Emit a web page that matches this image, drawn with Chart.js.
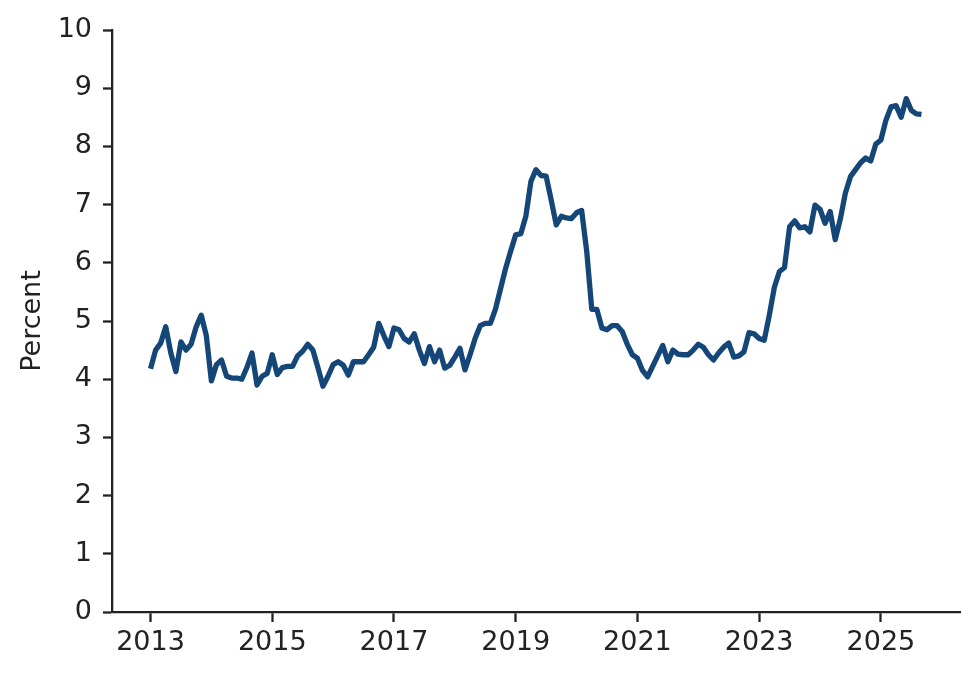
<!DOCTYPE html>
<html>
<head>
<meta charset="utf-8">
<script src="https://cdn.jsdelivr.net/npm/chart.js@4/dist/chart.umd.min.js"></script>
<style>
html,body{margin:0;padding:0;background:#fff;}
#wrap{width:979px;height:679px;}
</style>
</head>
<body>
<div id="wrap"><canvas id="c" width="979" height="679"></canvas></div>
<script>
const startYear = 2013;
const v2013 = [4.18, 4.5, 4.62, 4.9, 4.45, 4.13, 4.64, 4.5, 4.6, 4.9, 5.1, 4.75];
const v2014 = [3.97, 4.25, 4.33, 4.05, 4.02, 4.02, 4.0, 4.2, 4.45, 3.9, 4.05, 4.1];
const v2015 = [4.42, 4.08, 4.2, 4.22, 4.22, 4.4, 4.48, 4.6, 4.5, 4.2, 3.88, 4.05];
const v2016 = [4.25, 4.3, 4.24, 4.07, 4.3, 4.3, 4.3, 4.42, 4.55, 4.96, 4.75, 4.56];
const v2017 = [4.88, 4.85, 4.7, 4.64, 4.78, 4.5, 4.27, 4.56, 4.3, 4.5, 4.19, 4.24];
const v2018 = [4.38, 4.53, 4.16, 4.42, 4.7, 4.92, 4.96, 4.96, 5.2, 5.55, 5.9, 6.2];
const v2019 = [6.48, 6.5, 6.8, 7.4, 7.6, 7.5, 7.49, 7.08, 6.65, 6.8, 6.77, 6.76];
const v2020 = [6.86, 6.9, 6.2, 5.2, 5.2, 4.88, 4.85, 4.92, 4.92, 4.82, 4.6, 4.42];
const v2021 = [4.36, 4.15, 4.04, 4.22, 4.4, 4.58, 4.3, 4.5, 4.43, 4.42, 4.42, 4.5];
const v2022 = [4.6, 4.55, 4.42, 4.33, 4.45, 4.55, 4.62, 4.38, 4.4, 4.47, 4.8, 4.78];
const v2023 = [4.7, 4.67, 5.1, 5.58, 5.85, 5.92, 6.62, 6.72, 6.6, 6.62, 6.53, 6.99];
const v2024 = [6.92, 6.68, 6.88, 6.4, 6.75, 7.2, 7.48, 7.6, 7.72, 7.8, 7.75, 8.04];
const v2025 = [8.11, 8.45, 8.68, 8.7, 8.5, 8.82, 8.62, 8.56, 8.55];
const values = [].concat(v2013, v2014, v2015, v2016, v2017, v2018, v2019, v2020, v2021, v2022, v2023, v2024, v2025);
const xTicks = [2013, 2015, 2017, 2019, 2021, 2023, 2025];
const yTicks = [0, 1, 2, 3, 4, 5, 6, 7, 8, 9, 10];
const yTitle = 'Percent';

const points = values.map((v, i) => ({x: startYear + i / 12, y: v}));
const xMin = 2012.367, xMax = 2026.3;

const txt = '#222222';
const fontFam = 'DejaVu Sans';

new Chart(document.getElementById('c'), {
  type: 'line',
  data: {
    datasets: [{
      data: points,
      borderColor: '#154678',
      borderWidth: 5.3,
      pointRadius: 0,
      tension: 0,
      borderJoinStyle: 'round',
      borderCapStyle: 'butt',
      fill: false
    }]
  },
  options: {
    responsive: false,
    animation: false,
    devicePixelRatio: 1,
    layout: {padding: {top: 30, right: 19, left: 0, bottom: 0}},
    plugins: {legend: {display: false}, tooltip: {enabled: false}},
    scales: {
      x: {
        type: 'linear',
        min: xMin,
        max: xMax,
        afterBuildTicks: s => { s.ticks = xTicks.map(v => ({value: v})); },
        afterFit: s => { s.height = 67; },
        border: {display: true, color: txt, width: 2.3},
        grid: {drawOnChartArea: false, drawTicks: true, tickLength: 10, tickWidth: 2.3, tickColor: txt},
        ticks: {color: txt, font: {family: fontFam, size: 27}, padding: 5, maxRotation: 0, autoSkip: false,
          callback: v => String(v)}
      },
      y: {
        type: 'linear',
        min: 0,
        max: 10,
        afterBuildTicks: s => { s.ticks = yTicks.map(v => ({value: v})); },
        afterFit: s => { s.width = 112; },
        border: {display: true, color: txt, width: 2.3},
        grid: {drawOnChartArea: false, drawTicks: true, tickLength: 9, tickWidth: 2.3, tickColor: txt},
        ticks: {color: txt, font: {family: fontFam, size: 27}, padding: 11, autoSkip: false,
          callback: v => String(v)},
        title: {display: true, text: yTitle, color: txt, font: {family: fontFam, size: 27}, padding: {top: 17, bottom: 0}}
      }
    }
  }
});
</script>
</body>
</html>
